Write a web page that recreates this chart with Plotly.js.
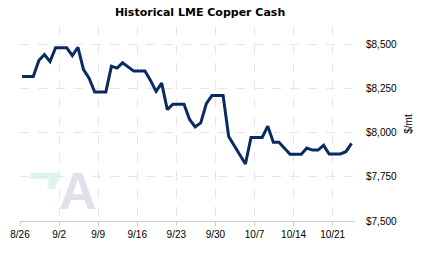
<!DOCTYPE html>
<html>
<head>
<meta charset="utf-8">
<script src="https://cdn.plot.ly/plotly-3.0.1.min.js"></script>
<style>html,body{margin:0;padding:0;background:#fff;}#chart{width:423px;height:257px;}</style>
</head>
<body>
<div id="chart"></div>
<script>
// Daily LME copper cash price (weekends/holidays carry the last price)
var dates = [
  '2023-08-26 09:00','2023-08-27 09:00','2023-08-28 09:00','2023-08-29 09:00','2023-08-30 09:00','2023-08-31 09:00',
  '2023-09-01 09:00','2023-09-02 09:00','2023-09-03 09:00','2023-09-04 09:00','2023-09-05 09:00','2023-09-06 09:00',
  '2023-09-07 09:00','2023-09-08 09:00','2023-09-09 09:00','2023-09-10 09:00','2023-09-11 09:00','2023-09-12 09:00',
  '2023-09-13 09:00','2023-09-14 09:00','2023-09-15 09:00','2023-09-16 09:00','2023-09-17 09:00','2023-09-18 09:00',
  '2023-09-19 09:00','2023-09-20 09:00','2023-09-21 09:00','2023-09-22 09:00','2023-09-23 09:00','2023-09-24 09:00',
  '2023-09-25 09:00','2023-09-26 09:00','2023-09-27 09:00','2023-09-28 09:00','2023-09-29 09:00','2023-09-30 09:00',
  '2023-10-01 09:00','2023-10-02 09:00','2023-10-03 09:00','2023-10-04 09:00','2023-10-05 09:00','2023-10-06 09:00',
  '2023-10-07 09:00','2023-10-08 09:00','2023-10-09 09:00','2023-10-10 09:00','2023-10-11 09:00','2023-10-12 09:00',
  '2023-10-13 09:00','2023-10-14 09:00','2023-10-15 09:00','2023-10-16 09:00','2023-10-17 09:00','2023-10-18 09:00',
  '2023-10-19 09:00','2023-10-20 09:00','2023-10-21 09:00','2023-10-22 09:00','2023-10-23 09:00','2023-10-24 09:00'
];
var prices = [
  8320, 8320, 8320, 8410, 8444, 8404,
  8482, 8482, 8482, 8438, 8485, 8358,
  8310, 8231, 8231, 8231, 8378, 8367,
  8397, 8373, 8350, 8350, 8350, 8297,
  8235, 8282, 8132, 8162, 8162, 8162,
  8076, 8034, 8056, 8166, 8211, 8211,
  8211, 7979, 7927, 7875, 7823, 7974,
  7974, 7974, 8038, 7946, 7946, 7912,
  7878, 7878, 7878, 7914, 7902, 7902,
  7929, 7880, 7880, 7880, 7893, 7940
];
var xTickVals = ['2023-08-26','2023-09-02','2023-09-09','2023-09-16','2023-09-23','2023-09-30','2023-10-07','2023-10-14','2023-10-21'];
var xTickText = ['8/26','9/2','9/9','9/16','9/23','9/30','10/7','10/14','10/21'];
var yTickVals = [7500, 7750, 8000, 8250, 8500];
var titleText = 'Historical LME Copper Cash';
var yTitleText = '$/mt';

var trace = {
  x: dates, y: prices, type: 'scatter', mode: 'lines',
  line: {color: '#0b2a64', width: 3, shape: 'linear'},
  hoverinfo: 'skip'
};

var tickFont = {family: '"Liberation Sans", Arial, sans-serif', size: 10, color: '#000'};

var layout = {
  width: 423, height: 257,
  margin: {l: 20, r: 68, t: 27, b: 36},
  paper_bgcolor: '#fff', plot_bgcolor: '#fff',
  showlegend: false,
  title: {text: titleText, x: 0.473, xanchor: 'center', y: 0.952, yanchor: 'middle',
          font: {family: '"DejaVu Sans", Verdana, sans-serif', size: 11, color: '#000', weight: 'bold'}},
  xaxis: {
    type: 'date', range: ['2023-08-26', '2023-10-25'],
    tickmode: 'array', tickvals: xTickVals, ticktext: xTickText,
    showgrid: true, gridcolor: '#e6e6e6', griddash: 'dash', gridwidth: 1,
    showline: true, linecolor: '#cccccc', linewidth: 1,
    ticks: 'outside', ticklen: 4, tickcolor: '#cccccc',
    zeroline: false, tickfont: tickFont, fixedrange: true
  },
  yaxis: {
    side: 'right', range: [7500, 8600],
    tickmode: 'array', tickvals: yTickVals, tickformat: '$,.0f',
    showgrid: true, gridcolor: '#e6e6e6', griddash: 'dash', gridwidth: 1,
    showline: false, zeroline: false,
    ticks: 'outside', ticklen: 8, tickcolor: 'rgba(0,0,0,0)',
    tickfont: tickFont, fixedrange: true,
    title: {text: yTitleText, font: tickFont, standoff: 8}
  },
  shapes: [{
    type: 'path', xref: 'paper', yref: 'paper', layer: 'below',
    path: 'M0.0328,0.249 L0.1194,0.249 L0.1045,0.165 L0.0806,0.165 L0.0881,0.2165 L0.0284,0.2165 Z',
    fillcolor: '#def5e9', line: {width: 0}
  }],
  annotations: [{
    text: 'A', xref: 'paper', yref: 'paper', x: 0.173, y: -0.003, xanchor: 'center', yanchor: 'bottom',
    showarrow: false, font: {family: '"Liberation Sans", Arial, sans-serif', size: 52, color: '#dfe2e8', weight: 'bold'}
  }]
};

Plotly.newPlot('chart', [trace], layout, {displayModeBar: false, staticPlot: true});
</script>
</body>
</html>
